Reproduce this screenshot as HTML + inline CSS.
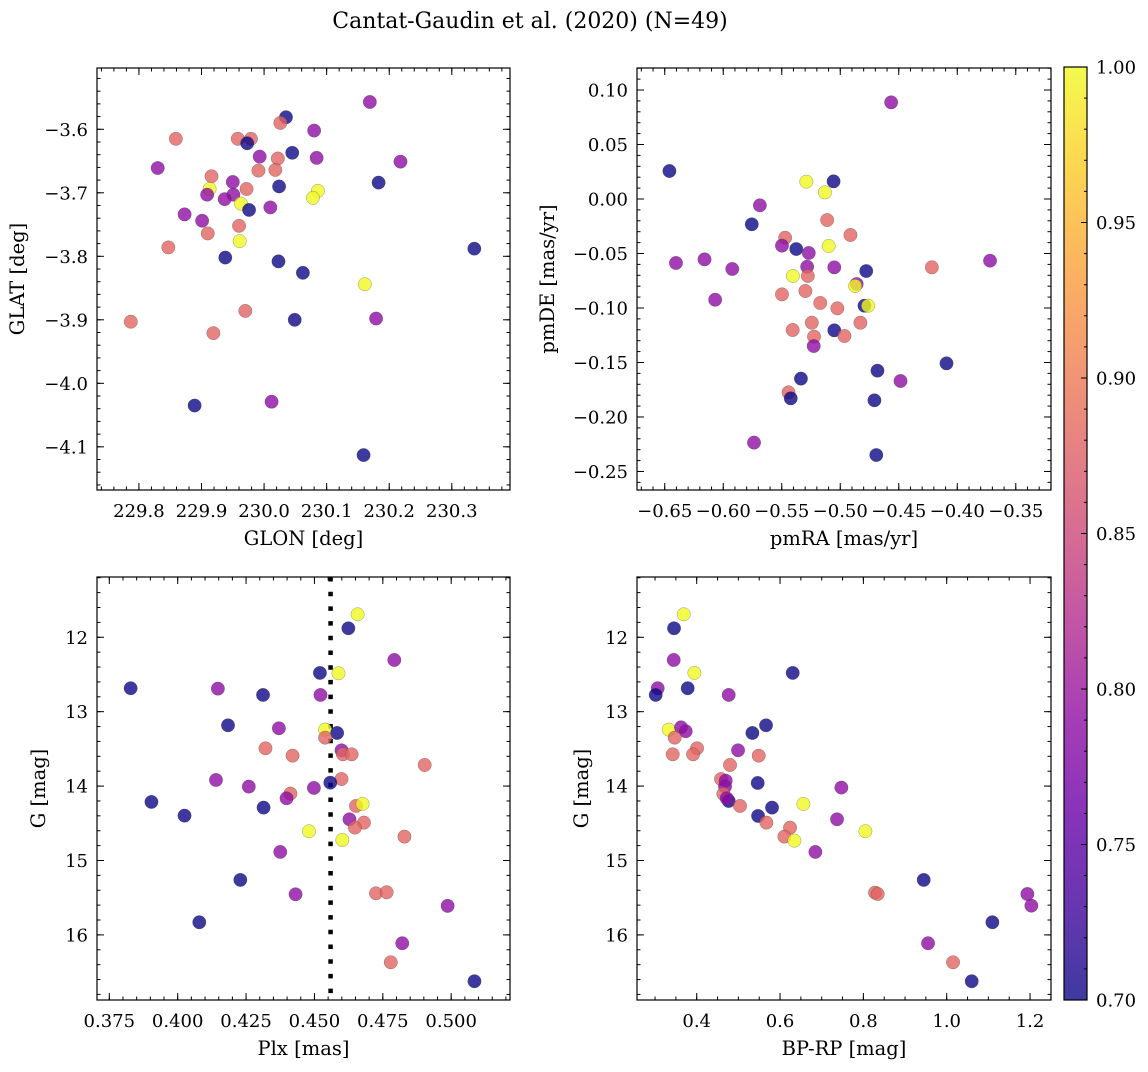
<!DOCTYPE html>
<html><head><meta charset="utf-8">
<style>
html,body{margin:0;padding:0;background:#fff;}
svg text{font-family:"DejaVu Serif","Liberation Serif",serif;fill:#000;}
</style></head>
<body>
<svg id="fig" width="1148" height="1067" viewBox="0 0 1148 1067" xmlns="http://www.w3.org/2000/svg">
<defs>
<linearGradient id="plasma" x1="0" y1="1" x2="0" y2="0">
<stop offset="0" stop-color="#0d0887"/><stop offset="0.1" stop-color="#41049d"/><stop offset="0.2" stop-color="#6a00a8"/><stop offset="0.3" stop-color="#8f0da4"/><stop offset="0.4" stop-color="#b12a90"/><stop offset="0.5" stop-color="#cc4778"/><stop offset="0.6" stop-color="#e16462"/><stop offset="0.7" stop-color="#f2844b"/><stop offset="0.8" stop-color="#fca636"/><stop offset="0.9" stop-color="#fcce25"/><stop offset="1" stop-color="#f0f921"/>
</linearGradient>
</defs>
<text x="530" y="28" font-size="22" text-anchor="middle">Cantat-Gaudin et al. (2020) (N=49)</text>
</svg>
<script>
// ---- data ----
const glon=[230.169,230.035,230.026,230.080,229.859,229.958,229.979,229.973,230.045,229.993,230.084,230.022,230.218,229.830,229.991,230.018,229.916,229.950,230.183,230.024,229.913,229.972,230.086,229.909,229.951,229.937,230.078,229.963,229.976,230.010,229.873,229.901,229.960,229.910,229.961,229.847,230.336,229.938,230.023,230.062,230.161,229.970,229.787,230.049,230.179,229.919,229.889,230.012,230.159];
const glat=[-3.557,-3.581,-3.590,-3.602,-3.615,-3.615,-3.615,-3.622,-3.637,-3.643,-3.645,-3.646,-3.651,-3.661,-3.665,-3.664,-3.674,-3.683,-3.684,-3.690,-3.694,-3.694,-3.697,-3.703,-3.703,-3.710,-3.708,-3.717,-3.727,-3.723,-3.734,-3.744,-3.752,-3.764,-3.776,-3.786,-3.788,-3.802,-3.808,-3.826,-3.844,-3.886,-3.903,-3.900,-3.898,-3.921,-4.035,-4.029,-4.113];
const prob1=[0.79,0.70,0.88,0.79,0.88,0.88,0.88,0.70,0.70,0.79,0.79,0.88,0.79,0.79,0.88,0.88,0.88,0.79,0.70,0.70,1.0,0.88,1.0,0.79,0.79,0.79,1.0,1.0,0.70,0.79,0.79,0.79,0.88,0.88,1.0,0.88,0.70,0.70,0.70,0.70,1.0,0.88,0.88,0.70,0.79,0.88,0.70,0.79,0.70];
const pmra=[-0.4565,-0.646,-0.529,-0.5057,-0.5131,-0.5687,-0.5756,-0.5112,-0.4913,-0.5471,-0.5498,-0.5376,-0.5099,-0.5269,-0.6404,-0.6160,-0.3720,-0.4217,-0.5923,-0.5051,-0.5283,-0.4778,-0.5405,-0.5277,-0.4860,-0.4873,-0.5298,-0.5498,-0.6069,-0.4793,-0.4762,-0.5171,-0.5025,-0.5243,-0.4828,-0.5407,-0.5051,-0.5224,-0.4964,-0.5227,-0.4092,-0.4682,-0.5336,-0.4485,-0.5442,-0.5423,-0.4708,-0.5737,-0.4692];
const pmde=[0.0887,0.0257,0.0159,0.0162,0.0061,-0.0058,-0.0232,-0.0193,-0.0330,-0.0355,-0.0428,-0.0459,-0.0431,-0.0495,-0.0587,-0.0554,-0.0566,-0.0627,-0.0642,-0.0627,-0.0621,-0.0661,-0.0706,-0.0706,-0.0780,-0.0798,-0.0844,-0.0875,-0.0924,-0.0979,-0.0979,-0.0954,-0.1003,-0.1135,-0.1135,-0.1202,-0.1205,-0.1263,-0.1257,-0.1349,-0.1508,-0.1575,-0.1648,-0.1670,-0.1774,-0.1829,-0.1847,-0.2235,-0.2349];
const prob2=[0.79,0.70,1.0,0.70,1.0,0.79,0.70,0.88,0.88,0.88,0.79,0.70,1.0,0.79,0.79,0.79,0.79,0.88,0.79,0.79,0.79,0.70,1.0,0.88,0.79,1.0,0.88,0.88,0.79,0.70,1.0,0.88,0.88,0.88,0.88,0.88,0.70,0.88,0.88,0.79,0.70,0.70,0.70,0.79,0.88,0.70,0.70,0.79,0.70];
const plx=[0.4658,0.4624,0.4792,0.4520,0.4588,0.3828,0.4147,0.4312,0.4522,0.4184,0.4370,0.4539,0.4583,0.4539,0.4321,0.4599,0.4420,0.4604,0.4636,0.4903,0.4140,0.4599,0.4558,0.4260,0.4498,0.3904,0.4412,0.4398,0.4314,0.4652,0.4676,0.4025,0.4628,0.4681,0.4648,0.4480,0.4602,0.4829,0.4375,0.4229,0.4431,0.4725,0.4764,0.4987,0.4079,0.4821,0.4779,0.5085];
const gmag3=[11.691,11.879,12.305,12.479,12.484,12.685,12.690,12.775,12.775,13.183,13.223,13.241,13.286,13.349,13.492,13.519,13.591,13.573,13.573,13.716,13.918,13.905,13.954,14.007,14.025,14.213,14.101,14.164,14.289,14.267,14.240,14.397,14.446,14.491,14.558,14.607,14.724,14.679,14.885,15.261,15.454,15.441,15.427,15.610,15.830,16.112,16.368,16.623];
const prob3=[1.0,0.70,0.79,0.70,1.0,0.70,0.79,0.70,0.79,0.70,0.79,1.0,0.70,0.88,0.88,0.79,0.88,0.88,0.88,0.88,0.79,0.88,0.70,0.79,0.79,0.70,0.88,0.79,0.70,0.88,1.0,0.70,0.79,0.88,0.88,1.0,1.0,0.88,0.79,0.70,0.79,0.88,0.88,0.79,0.70,0.79,0.88,0.70];
const bprp=[0.3688,0.3456,0.3448,0.3944,0.6304,0.3064,0.3016,0.3784,0.4768,0.5664,0.5336,0.3328,0.3624,0.3736,0.3472,0.4008,0.3424,0.3912,0.4992,0.5488,0.4800,0.4584,0.4696,0.5464,0.4680,0.4640,0.4768,0.4720,0.5040,0.5808,0.6560,0.7472,0.5472,0.5672,0.7368,0.6240,0.8048,0.6104,0.6344,0.6848,0.9448,0.8280,0.8344,1.1936,1.2032,1.1096,0.9552,1.0152,1.0600];
const gmag4=[11.691,11.879,12.305,12.479,12.479,12.685,12.775,12.685,12.775,13.183,13.286,13.241,13.210,13.263,13.349,13.492,13.573,13.573,13.519,13.591,13.716,13.905,13.927,13.958,14.007,14.106,14.200,14.164,14.267,14.289,14.240,14.020,14.401,14.491,14.446,14.558,14.607,14.679,14.733,14.885,15.261,15.432,15.450,15.450,15.607,15.830,16.112,16.368,16.623];
const prob4=[1.0,0.70,0.79,1.0,0.70,0.79,0.70,0.70,0.79,0.70,0.70,1.0,0.79,0.79,0.88,0.88,0.88,0.88,0.79,0.88,0.88,0.88,0.79,0.70,0.79,0.88,0.70,0.79,0.88,0.70,1.0,0.79,0.70,0.88,0.79,0.88,1.0,0.88,1.0,0.79,0.70,0.88,0.88,0.79,0.79,0.70,0.79,0.88,0.70];
const xticks1=[229.8,229.9,230.0,230.1,230.2,230.3];
const yticks1=[-3.6,-3.7,-3.8,-3.9,-4.0,-4.1];
const xticks2=[-0.65,-0.60,-0.55,-0.50,-0.45,-0.40,-0.35];
const yticks2=[0.10,0.05,0.00,-0.05,-0.10,-0.15,-0.20,-0.25];
const xticks3=[0.375,0.400,0.425,0.450,0.475,0.500];
const yticksG=[12,13,14,15,16];
const xticks4=[0.4,0.6,0.8,1.0,1.2];
const cbTicks=[0.70,0.75,0.80,0.85,0.90,0.95,1.00];
const plxLine=[0.4559];

const NS="http://www.w3.org/2000/svg";
const svg=document.getElementById('fig');
const FS=19.5, TFS=18;
function mk(tag,attrs,parent){const e=document.createElementNS(NS,tag);for(const k in attrs)e.setAttribute(k,attrs[k]);(parent||svg).appendChild(e);return e;}
const stops=[[13,8,135],[65,4,157],[106,0,168],[143,13,164],[177,42,144],[204,71,120],[225,100,98],[242,132,75],[252,166,54],[252,206,37],[240,249,33]];
function plasma(v){let t=(v-0.70)/0.30;t=Math.max(0,Math.min(1,t))*10;const i=Math.min(9,Math.floor(t)),f=t-i;const a=stops[i],b=stops[i+1];return 'rgb('+a.map((c,k)=>Math.round(c+(b[k]-c)*f)).join(',')+')';}
function fmt(v,d){const s=Math.abs(v).toFixed(d);return (v<-1e-9?'\u2212':'')+s;}

function panel(o){
  const g=mk('g',{});
  
  
  const sx=v=>o.x0+(v-o.xd[0])/(o.xd[1]-o.xd[0])*(o.x1-o.x0);
  const sy=v=>o.y0+(v-o.yd[0])/(o.yd[1]-o.yd[0])*(o.y1-o.y0);
  const tg=mk('g',{stroke:'#000','stroke-width':1},g);
  
  
  const lo=Math.min(...o.xd),hi=Math.max(...o.xd);
  for(let v=Math.ceil(lo/o.xm-1e-6)*o.xm;v<=hi+1e-9;v+=o.xm){const x=sx(v);mk('line',{x1:x,x2:x,y1:o.y1,y2:o.y1-3.5},tg);mk('line',{x1:x,x2:x,y1:o.y0,y2:o.y0+3.5},tg);}
  const ylo=Math.min(...o.yd),yhi=Math.max(...o.yd);
  for(let v=Math.ceil(ylo/o.ym-1e-6)*o.ym;v<=yhi+1e-9;v+=o.ym){const y=sy(v);mk('line',{x1:o.x0,x2:o.x0+3.5,y1:y,y2:y},tg);mk('line',{x1:o.x1,x2:o.x1-3.5,y1:y,y2:y},tg);}
  o.xt.forEach(v=>{const x=sx(v);mk('line',{x1:x,x2:x,y1:o.y1,y2:o.y1-7},tg);mk('line',{x1:x,x2:x,y1:o.y0,y2:o.y0+7},tg);
    const t=mk('text',{x:x,y:o.y1+27,'font-size':TFS,'text-anchor':'middle'},g);t.textContent=fmt(v,o.xdp);
    
    });
  o.yt.forEach(v=>{const y=sy(v);mk('line',{x1:o.x0,x2:o.x0+7,y1:y,y2:y},tg);mk('line',{x1:o.x1,x2:o.x1-7,y1:y,y2:y},tg);
    const t=mk('text',{x:o.x0-9,y:y+6.5,'font-size':TFS,'text-anchor':'end'},g);t.textContent=fmt(v,o.ydp);
    
    });
  if(o.vline){o.vline.forEach(v=>{const l=mk('line',{x1:sx(v),x2:sx(v),y1:o.y0,y2:o.y1,stroke:'#000','stroke-width':4.5,'stroke-dasharray':'4.5 10.2'},g);
    
    });}
  for(let i=0;i<o.xs.length;i++){
    const c=mk('circle',{cx:sx(o.xs[i]),cy:sy(o.ys[i]),r:6.7,fill:plasma(o.cs[i]),'fill-opacity':0.8,stroke:'rgba(60,60,60,0.5)','stroke-width':0.5},g);
    
    
  }
  mk('rect',{x:o.x0,y:o.y0,width:o.x1-o.x0,height:o.y1-o.y0,fill:'none',stroke:'#000','stroke-width':1.2},g);
  const xl=mk('text',{x:(o.x0+o.x1)/2,y:o.y1+55,'font-size':FS,'text-anchor':'middle'},g);xl.textContent=o.xl;
  
  
  const yx=o.ylx,yy=(o.y0+o.y1)/2;
  const yl=mk('text',{x:yx,y:yy,'font-size':FS,'text-anchor':'middle',transform:'rotate(-90 '+yx+' '+yy+')'},g);yl.textContent=o.yl;
  
  
}

panel({name:'glon-glat-panel',x0:97,x1:510,y0:68,y1:490,xd:[229.733,230.393],yd:[-3.5035,-4.168],xm:0.02,ym:0.02,xt:xticks1,yt:yticks1,xdp:1,ydp:1,xs:glon,ys:glat,cs:prob1,xl:'GLON [deg]',yl:'GLAT [deg]',ylx:24});
panel({name:'proper-motion-panel',x0:637,x1:1051,y0:68,y1:490,xd:[-0.6737,-0.3199],yd:[0.1202,-0.267],xm:0.01,ym:0.01,xt:xticks2,yt:yticks2,xdp:2,ydp:2,xs:pmra,ys:pmde,cs:prob2,xl:'pmRA [mas/yr]',yl:'pmDE [mas/yr]',ylx:554});
panel({name:'parallax-magnitude-panel',x0:97,x1:510,y0:577,y1:1000,xd:[0.3705,0.5215],yd:[11.19,16.875],xm:0.005,ym:0.2,xt:xticks3,yt:yticksG,xdp:3,ydp:0,xs:plx,ys:gmag3,cs:prob3,xl:'Plx [mas]',yl:'G [mag]',ylx:45,vline:plxLine});
panel({name:'color-magnitude-panel',x0:637,x1:1051,y0:577,y1:1000,xd:[0.2567,1.2503],yd:[11.19,16.875],xm:0.05,ym:0.2,xt:xticks4,yt:yticksG,xdp:1,ydp:0,xs:bprp,ys:gmag4,cs:prob4,xl:'BP-RP [mag]',yl:'G [mag]',ylx:588});

// colorbar
const cb=mk('g',{});


const cx0=1064,cx1=1087,cy0=67,cy1=1000;
const cy=v=>cy1-(v-0.70)/0.30*(cy1-cy0);
mk('rect',{x:cx0,y:cy0,width:cx1-cx0,height:cy1-cy0,fill:'url(#plasma)','fill-opacity':0.8},cb);
for(let v=0.70;v<=1.0001;v+=0.01){const y=cy(v);mk('line',{x1:cx1,x2:cx1-3,y1:y,y2:y,stroke:'#000','stroke-width':1},cb);}
cbTicks.forEach(v=>{const y=cy(v);mk('line',{x1:cx1,x2:cx1-6,y1:y,y2:y,stroke:'#000','stroke-width':1},cb);
  const t=mk('text',{x:1096,y:y+6.5,'font-size':TFS},cb);t.textContent=v.toFixed(2);
  
  });
mk('rect',{x:cx0,y:cy0,width:cx1-cx0,height:cy1-cy0,fill:'none',stroke:'#000','stroke-width':1.2},cb);
</script>
</body></html>
